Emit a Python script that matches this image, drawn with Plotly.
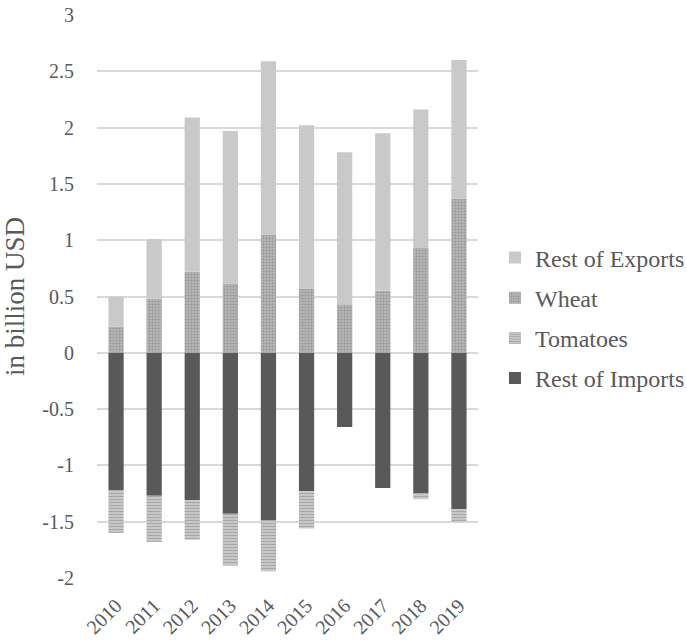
import plotly.graph_objects as go

years = ["2010", "2011", "2012", "2013", "2014", "2015", "2016", "2017", "2018", "2019"]
rest_exports = [0.27, 0.53, 1.37, 1.36, 1.54, 1.45, 1.35, 1.40, 1.23, 1.23]
wheat = [0.23, 0.48, 0.72, 0.61, 1.05, 0.57, 0.43, 0.55, 0.93, 1.37]
tomatoes = [-0.38, -0.41, -0.35, -0.46, -0.45, -0.33, 0.0, 0.0, -0.05, -0.11]
rest_imports = [-1.22, -1.27, -1.31, -1.43, -1.49, -1.23, -0.66, -1.20, -1.25, -1.39]
y_ticks = [-2, -1.5, -1, -0.5, 0, 0.5, 1, 1.5, 2, 2.5, 3]

font_family = "Liberation Serif"
text_color = "#595959"

fig = go.Figure()
fig.add_trace(go.Bar(
    x=years, y=rest_imports, name="Rest of Imports", legendgroup="d", legendrank=4,
    marker=dict(color="#595959", line=dict(width=0)),
))
fig.add_trace(go.Bar(
    x=years, y=tomatoes, name="Tomatoes", legendgroup="c", legendrank=3,
    marker=dict(color="#d0d0d0", line=dict(width=0),
                pattern=dict(shape="-", fgcolor="#7f7f7f", bgcolor="#d0d0d0", size=3, solidity=0.5)),
))
fig.add_trace(go.Bar(
    x=years, y=wheat, name="Wheat", legendgroup="b", legendrank=2,
    marker=dict(color="#bdbdbd", line=dict(width=0),
                pattern=dict(shape=".", fgcolor="#7a7a7a", bgcolor="#bdbdbd", size=3, solidity=0.5)),
))
fig.add_trace(go.Bar(
    x=years, y=rest_exports, name="Rest of Exports", legendgroup="a", legendrank=1,
    marker=dict(color="#c9c9c9", line=dict(width=0)),
))

fig.update_layout(
    barmode="relative",
    bargap=0.6,
    width=687, height=643,
    paper_bgcolor="white", plot_bgcolor="white",
    margin=dict(l=97, r=209, t=15, b=65),
    font=dict(family=font_family, color=text_color, size=20),
    legend=dict(
        traceorder="grouped",
        tracegroupgap=6,
        xref="container", x=0.7205, xanchor="left",
        y=0.462, yanchor="middle",
        font=dict(family=font_family, size=24, color=text_color),
        itemwidth=30,
        borderwidth=0,
        bgcolor="rgba(0,0,0,0)",
    ),
    xaxis=dict(
        tickangle=-45, showgrid=False, showline=False, automargin=False,
        ticks="outside", ticklen=7, tickcolor="rgba(0,0,0,0)",
        tickfont=dict(family=font_family, size=20, color=text_color),
    ),
    yaxis=dict(
        range=[-2, 3], tickvals=y_ticks, ticktext=[str(v) for v in y_ticks],
        showgrid=True, gridcolor="#d9d9d9", gridwidth=1.5, automargin=False,
        zeroline=False, showline=False,
        ticks="outside", ticklen=18, tickcolor="rgba(0,0,0,0)",
        tickfont=dict(family=font_family, size=20, color=text_color),
        title=dict(text="in billion USD", font=dict(family=font_family, size=27, color=text_color), standoff=16),
    ),
)

fig.write_html("out.html", config={"displayModeBar": False},
               post_script="document.body.style.margin='0px';")
